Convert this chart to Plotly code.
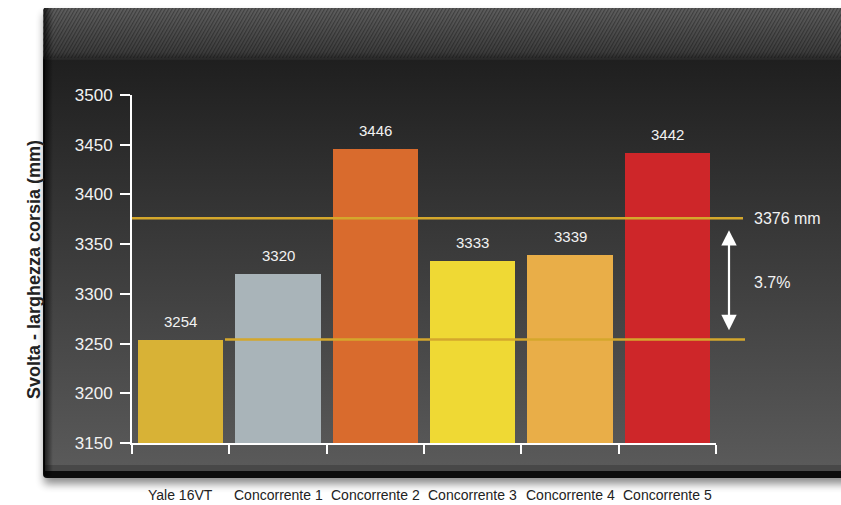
import base64
import plotly.graph_objects as go

# ---- data ----
categories = ["Yale 16VT", "Concorrente 1", "Concorrente 2",
              "Concorrente 3", "Concorrente 4", "Concorrente 5"]
values = [3254, 3320, 3446, 3333, 3339, 3442]
bar_colors = ["#D8B236", "#A9B4B9", "#D96B2D", "#EFD934", "#E9AE48", "#CE2629"]
y_ticks = [3150, 3200, 3250, 3300, 3350, 3400, 3450, 3500]
ref_high = 3376          # upper reference line (mm)
ref_low = 3254           # lower reference line (Yale 16VT)
gap_label = "3.7%"
y_title = "Svolta - larghezza corsia (mm)"

W, H = 841, 505
Y_MIN, Y_MAX = 3150, 3500
X_DOM = [132 / W, 716 / W]
Y_DOM = [(H - 443) / H, (H - 95) / H]


def y_paper(v):
    """Map a value on the y axis to paper coordinates."""
    return Y_DOM[0] + (v - Y_MIN) / (Y_MAX - Y_MIN) * (Y_DOM[1] - Y_DOM[0])


# ---- dark framed panel drawn behind the chart ----
svg = f'''<svg xmlns="http://www.w3.org/2000/svg" width="{W}" height="{H}" viewBox="0 0 {W} {H}">
<defs>
<linearGradient id="body" gradientUnits="userSpaceOnUse" x1="0" y1="60" x2="0" y2="468">
<stop offset="0" stop-color="#1f1f1f"/><stop offset="1" stop-color="#5a5a5a"/></linearGradient>
<linearGradient id="band" x1="0" y1="0" x2="0" y2="1">
<stop offset="0" stop-color="#606060"/><stop offset="0.85" stop-color="#3e3e3e"/><stop offset="1" stop-color="#262626"/></linearGradient>
<linearGradient id="edge" x1="0" y1="0" x2="1" y2="0">
<stop offset="0" stop-color="#000" stop-opacity="0.7"/><stop offset="1" stop-color="#000" stop-opacity="0"/></linearGradient>
<pattern id="hatch" width="3" height="3" patternUnits="userSpaceOnUse" patternTransform="rotate(30)">
<rect width="1.2" height="3" fill="#000" opacity="0.32"/></pattern>
<filter id="blur" x="-5%" y="-5%" width="110%" height="120%"><feGaussianBlur stdDeviation="4"/></filter>
</defs>
<rect x="44" y="14" width="820" height="470" fill="#000" opacity="0.45" filter="url(#blur)"/>
<rect x="43" y="8" width="820" height="470" rx="4" fill="#0c0c0c"/>
<rect x="45" y="8" width="820" height="463" rx="3" fill="url(#body)"/>
<rect x="45" y="465" width="820" height="6" fill="#484848"/>
<rect x="43" y="8" width="820" height="52" rx="4" fill="url(#band)"/>
<rect x="43" y="8" width="820" height="50" fill="url(#hatch)"/>
<rect x="44" y="8" width="9" height="468" fill="url(#edge)"/>
</svg>'''
bg_src = "data:image/svg+xml;base64," + base64.b64encode(svg.encode()).decode()

FONT = "Liberation Sans, Arial, Helvetica, sans-serif"

fig = go.Figure()
fig.add_trace(go.Bar(
    x=list(range(len(categories))), y=values, base=0,
    marker=dict(color=bar_colors, line=dict(width=0)),
    width=0.875, hoverinfo="skip", showlegend=False,
))

annotations = []
# value labels above each bar
for i, v in enumerate(values):
    annotations.append(dict(x=i, y=v, xref="x", yref="y", text=str(v),
                            showarrow=False, yanchor="bottom", yshift=8,
                            font=dict(family=FONT, size=15, color="#f2f2f2")))
# category names below the panel
for i, c in enumerate(categories):
    annotations.append(dict(x=i, y=1 - 495 / H, xref="x", yref="paper", text=c,
                            showarrow=False, yanchor="middle",
                            font=dict(family=FONT, size=14, color="#222222")))
# reference line captions and the double-headed arrow
annotations.append(dict(x=752 / W, y=y_paper(ref_high), xref="paper", yref="paper",
                        text=f"{ref_high} mm", showarrow=False, xanchor="left",
                        font=dict(family=FONT, size=16, color="#f2f2f2")))
mid = (ref_high + ref_low) / 2
annotations.append(dict(x=752 / W, y=y_paper(mid - 4), xref="paper", yref="paper",
                        text=gap_label, showarrow=False, xanchor="left",
                        font=dict(family=FONT, size=16, color="#f2f2f2")))
head_y = y_paper(ref_high - 12)
tail_y = y_paper(ref_low + 8)
annotations.append(dict(x=729 / W, y=head_y, xref="paper", yref="paper",
                        ax=0, ay=(head_y - tail_y) * H, axref="pixel", ayref="pixel",
                        showarrow=True, arrowhead=2, arrowside="end+start",
                        arrowsize=1.4, arrowwidth=2.2, arrowcolor="#ffffff", text=""))
# y axis title
annotations.append(dict(x=22 / W, y=1 - 270 / H, xref="paper", yref="paper",
                        text=f"<b>{y_title}</b>", showarrow=False, textangle=-90,
                        font=dict(family=FONT, size=18, color="#222222")))

shapes = [
    dict(type="line", xref="paper", yref="paper", x0=132 / W, x1=743 / W,
         y0=y_paper(ref_high), y1=y_paper(ref_high),
         line=dict(color="#D4A72C", width=2.5)),
    dict(type="line", xref="paper", yref="paper", x0=225 / W, x1=745 / W,
         y0=y_paper(ref_low), y1=y_paper(ref_low),
         line=dict(color="#D4A72C", width=2.5)),
]

fig.update_layout(
    width=W, height=H,
    margin=dict(l=0, r=0, t=0, b=0, autoexpand=False),
    paper_bgcolor="#ffffff",
    plot_bgcolor="rgba(0,0,0,0)",
    bargap=0,
    images=[dict(source=bg_src, xref="paper", yref="paper", x=0, y=1,
                 sizex=1, sizey=1, xanchor="left", yanchor="top",
                 sizing="stretch", layer="below")],
    xaxis=dict(domain=X_DOM, range=[-0.5, len(categories) - 0.5],
               tickvals=[i - 0.5 for i in range(len(categories) + 1)],
               ticktext=[""] * (len(categories) + 1),
               ticks="outside", ticklen=9, tickwidth=2, tickcolor="#ffffff",
               showline=True, linecolor="#ffffff", linewidth=2,
               showgrid=False, zeroline=False, fixedrange=True, automargin=False),
    yaxis=dict(domain=Y_DOM, range=[Y_MIN, Y_MAX], tickvals=y_ticks,
               ticks="outside", ticklen=10, tickwidth=2, tickcolor="#ffffff",
               showline=True, linecolor="#ffffff", linewidth=2,
               showgrid=False, zeroline=False, fixedrange=True, automargin=False,
               tickfont=dict(family=FONT, size=17, color="#f2f2f2"),
               ticklabelstandoff=4),
    annotations=annotations,
    shapes=shapes,
)

fig.write_html("out.html", config={"displayModeBar": False})
